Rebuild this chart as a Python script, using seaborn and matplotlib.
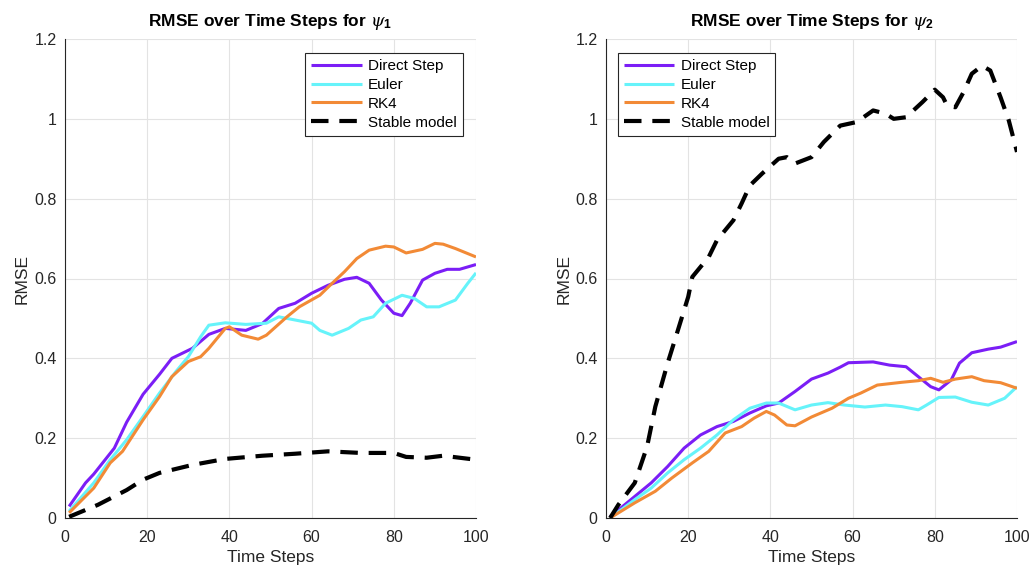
import matplotlib
matplotlib.use("Agg")
import matplotlib.pyplot as plt
import seaborn as sns
import pandas as pd

# ---------------- data ----------------
methods = ["Direct Step", "Euler", "RK4", "Stable model"]

# Panel psi_1
p1_direct_t = [1, 5, 7, 12, 15, 19, 23, 26, 30, 31, 35, 39, 44, 48, 52, 56, 60, 64, 68, 71, 74, 77, 80, 82, 84, 87, 90, 93, 96, 100]
p1_direct_v = [0.029, 0.088, 0.11, 0.175, 0.24, 0.31, 0.36, 0.40, 0.42, 0.425, 0.46, 0.475, 0.47, 0.487, 0.525, 0.538, 0.563, 0.583, 0.598, 0.603, 0.588, 0.546, 0.513, 0.507, 0.538, 0.596, 0.613, 0.623, 0.623, 0.635]

p1_euler_t = [1, 7, 11, 15, 19, 23, 27, 30, 33, 35, 39, 44, 49, 52, 56, 60, 62, 65, 69, 72, 75, 78, 82, 85, 88, 91, 95, 98, 100]
p1_euler_v = [0.017, 0.088, 0.146, 0.196, 0.254, 0.313, 0.367, 0.404, 0.454, 0.483, 0.489, 0.485, 0.488, 0.504, 0.496, 0.488, 0.47, 0.458, 0.475, 0.496, 0.504, 0.538, 0.558, 0.55, 0.529, 0.529, 0.546, 0.588, 0.614]

p1_rk4_t = [1, 7, 11, 14, 19, 23, 26, 30, 33, 35, 39, 40, 43, 47, 49, 54, 57, 62, 65, 68, 71, 74, 78, 80, 83, 87, 90, 92, 95, 100]
p1_rk4_v = [0.013, 0.075, 0.138, 0.167, 0.246, 0.304, 0.354, 0.392, 0.404, 0.425, 0.475, 0.479, 0.458, 0.448, 0.458, 0.504, 0.529, 0.558, 0.588, 0.617, 0.65, 0.671, 0.681, 0.679, 0.664, 0.673, 0.688, 0.686, 0.675, 0.654]

p1_stable_t = [1, 8, 15, 19, 23, 31, 39, 48, 56, 64, 72, 80, 83, 88, 92, 100]
p1_stable_v = [0.003, 0.033, 0.07, 0.096, 0.113, 0.133, 0.148, 0.156, 0.161, 0.167, 0.163, 0.163, 0.153, 0.151, 0.156, 0.146]

# Panel psi_2
p2_direct_t = [1, 7, 11, 15, 19, 23, 27, 31, 35, 39, 42, 46, 50, 54, 57, 59, 65, 69, 73, 76, 79, 81, 84, 86, 89, 93, 96, 100]
p2_direct_v = [0.003, 0.054, 0.088, 0.129, 0.175, 0.208, 0.229, 0.242, 0.263, 0.281, 0.288, 0.317, 0.348, 0.363, 0.378, 0.389, 0.391, 0.383, 0.379, 0.354, 0.329, 0.321, 0.346, 0.388, 0.414, 0.423, 0.428, 0.442]

p2_euler_t = [1, 7, 11, 15, 19, 23, 27, 31, 35, 39, 42, 46, 50, 54, 58, 63, 68, 72, 76, 78, 81, 85, 89, 93, 97, 100]
p2_euler_v = [0.0, 0.046, 0.075, 0.113, 0.146, 0.175, 0.208, 0.246, 0.275, 0.288, 0.288, 0.271, 0.283, 0.289, 0.283, 0.278, 0.283, 0.279, 0.271, 0.283, 0.302, 0.303, 0.29, 0.283, 0.3, 0.329]

p2_rk4_t = [1, 7, 12, 16, 21, 25, 29, 33, 36, 39, 41, 44, 46, 50, 55, 59, 62, 66, 72, 76, 79, 82, 85, 89, 92, 96, 100]
p2_rk4_v = [0.0, 0.038, 0.067, 0.1, 0.138, 0.167, 0.213, 0.229, 0.25, 0.267, 0.258, 0.233, 0.231, 0.253, 0.275, 0.3, 0.313, 0.333, 0.34, 0.344, 0.35, 0.34, 0.348, 0.354, 0.344, 0.339, 0.325]

p2_stable_t = [1, 3, 7, 10, 12, 15, 17, 20, 21, 25, 27, 31, 33, 35, 38, 42, 44, 46, 50, 53, 57, 61, 65, 68, 70, 73, 77, 80, 82, 83, 85, 87, 89, 91.5, 93.5, 96, 98, 100]
p2_stable_v = [0.0, 0.033, 0.088, 0.179, 0.279, 0.388, 0.454, 0.554, 0.604, 0.654, 0.696, 0.746, 0.788, 0.833, 0.863, 0.9, 0.904, 0.888, 0.904, 0.942, 0.983, 0.992, 1.021, 1.013, 1.0, 1.004, 1.042, 1.073, 1.054, 1.033, 1.029, 1.067, 1.113, 1.133, 1.121, 1.054, 0.996, 0.917]

x_ticks = [0, 20, 40, 60, 80, 100]
y_ticks = [0, 0.2, 0.4, 0.6, 0.8, 1.0, 1.2]
y_tick_labels = ["0", "0.2", "0.4", "0.6", "0.8", "1", "1.2"]

panels = [
    ("RMSE over Time Steps for $\\psi_\\mathbf{1}$",
     [(p1_direct_t, p1_direct_v), (p1_euler_t, p1_euler_v), (p1_rk4_t, p1_rk4_v), (p1_stable_t, p1_stable_v)],
     "upper right", (0.968, 0.971)),
    ("RMSE over Time Steps for $\\psi_\\mathbf{2}$",
     [(p2_direct_t, p2_direct_v), (p2_euler_t, p2_euler_v), (p2_rk4_t, p2_rk4_v), (p2_stable_t, p2_stable_v)],
     "upper left", (0.029, 0.971)),
]

# ---------------- styling ----------------
colors = {"Direct Step": "#7B1EF6", "Euler": "#66F3FA", "RK4": "#F28A36", "Stable model": "#000000"}
widths = {"Direct Step": 2.2, "Euler": 2.2, "RK4": 2.2, "Stable model": 3.0}

sns.set_theme(style="white")
plt.rcParams["font.family"] = ["Liberation Sans", "DejaVu Sans"]
plt.rcParams["mathtext.fontset"] = "custom"
plt.rcParams["mathtext.it"] = "DejaVu Serif:italic"
plt.rcParams["mathtext.bf"] = "Liberation Sans:bold"
plt.rcParams["mathtext.rm"] = "Liberation Sans"

fig = plt.figure(figsize=(10.33, 5.71), dpi=100)
ax_w = 411 / 1033
ax_h = 479 / 571
ax_b = (571 - 518) / 571
axes = [fig.add_axes([65 / 1033, ax_b, ax_w, ax_h]),
        fig.add_axes([606 / 1033, ax_b, ax_w, ax_h])]

axis_col = "#262626"
for ax, (title, series, loc, anchor) in zip(axes, panels):
    for name, (t, v) in zip(methods, series):
        df = pd.DataFrame({"Time Steps": t, "RMSE": v})
        sns.lineplot(data=df, x="Time Steps", y="RMSE", ax=ax, color=colors[name],
                     linewidth=widths[name], label=name, legend=False)
        line = ax.lines[-1]
        if name == "Stable model":
            line.set_dashes((4.2, 2.6))
            line.set_dash_capstyle("butt")
        line.set_solid_capstyle("butt")
    ax.set_xlim(0, 100)
    ax.set_ylim(0, 1.2)
    ax.set_xticks(x_ticks)
    ax.set_yticks(y_ticks)
    ax.set_yticklabels(y_tick_labels)
    ax.grid(True, color="#e3e3e3", linewidth=0.8)
    ax.set_axisbelow(True)
    for s in ["top", "right"]:
        ax.spines[s].set_visible(False)
    for s in ["left", "bottom"]:
        ax.spines[s].set_color(axis_col)
        ax.spines[s].set_linewidth(0.8)
    ax.tick_params(axis="both", direction="in", length=4, width=0.8, color=axis_col,
                   labelsize=11.5, labelcolor=axis_col)
    ax.tick_params(axis="x", pad=9)
    ax.tick_params(axis="y", pad=6)
    ax.set_xlabel("Time Steps", fontsize=12.5, color=axis_col, labelpad=3)
    ax.set_ylabel("RMSE", fontsize=12.5, color=axis_col, labelpad=3)
    ax.set_title(title, fontsize=12.5, fontweight="bold", color="#000000", pad=9)
    leg = ax.legend(loc=loc, bbox_to_anchor=anchor, borderaxespad=0, fontsize=11,
                    frameon=True, fancybox=False, framealpha=1, edgecolor=axis_col,
                    handlelength=3.3, handletextpad=0.4, labelspacing=0.32, borderpad=0.4)
    leg.get_frame().set_linewidth(0.8)
    for txt in leg.get_texts():
        txt.set_color("#000000")

fig.savefig("out.png", dpi=100)
